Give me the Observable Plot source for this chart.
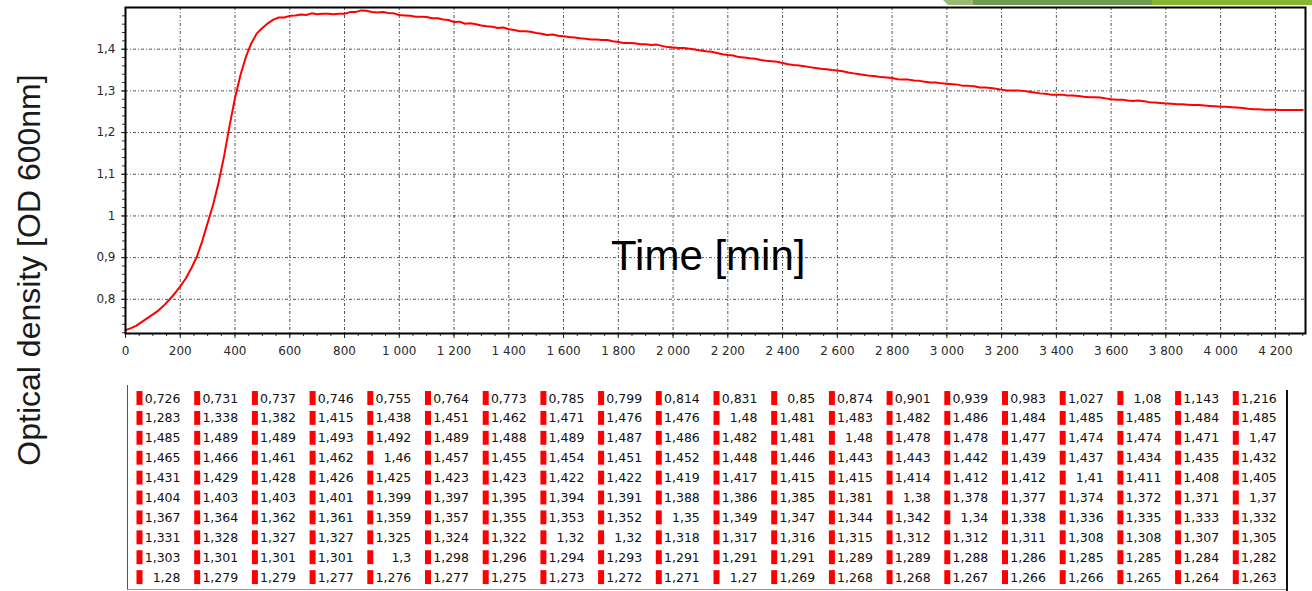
<!DOCTYPE html>
<html>
<head>
<meta charset="utf-8">
<script src="https://cdn.jsdelivr.net/npm/d3@7"></script>
<script src="https://cdn.jsdelivr.net/npm/@observablehq/plot@0.6"></script>
<style>
  html, body { margin: 0; padding: 0; background: #fff; }
  body { width: 1312px; height: 591px; position: relative; overflow: hidden; font-family: "Liberation Sans", Arial, sans-serif; }
  #chart { position: absolute; left: 0; top: 0; }
  #table { position: absolute; left: 0; top: 380px; }
  #tableBox { position: absolute; left: 127px; top: 385px; width: 1160px; height: 204px;
              border-left: 1px solid #555; border-bottom: 1px solid #999; }
  #tableRight { position: absolute; left: 1286px; top: 390px; width: 2px; height: 201px; background: #111; }
  #timeLabel { position: absolute; left: 611px; top: 235px; font-size: 42px; line-height: 42px; color: #000; white-space: nowrap; }
  #ylab { position: absolute; left: 0; top: 0; }
  .deco { position: absolute; top: 0; height: 5px; }
</style>
</head>
<body>
<div class="deco" style="left:936px;width:40px;background:#9cb873;clip-path:polygon(7px 0,100% 0,100% 100%,12px 100%);"></div>
<div class="deco" style="left:973px;width:180px;background:#6f9b4f;"></div>
<div class="deco" style="left:1152px;width:160px;background:#8ab52f;"></div>
<div id="chart"></div>
<div id="tableBox"></div>
<div id="tableRight"></div>
<div id="table"></div>
<div id="timeLabel">Time [min]</div>
<svg id="ylab" width="60" height="591">
  <text transform="translate(40,270) rotate(-90)" text-anchor="middle" font-family="Liberation Sans, Arial, sans-serif" font-size="32" fill="#1a1a1a">Optical density [OD 600nm]</text>
</svg>
<script>
// ---- data ----
const interval = 20; // minutes between readings
const od = [
  0.726, 0.731, 0.737, 0.746, 0.755, 0.764, 0.773, 0.785, 0.799, 0.814, 0.831, 0.85, 0.874, 0.901, 0.939, 0.983, 1.027, 1.08, 1.143, 1.216,
  1.283, 1.338, 1.382, 1.415, 1.438, 1.451, 1.462, 1.471, 1.476, 1.476, 1.48, 1.481, 1.483, 1.482, 1.486, 1.484, 1.485, 1.485, 1.484, 1.485,
  1.485, 1.489, 1.489, 1.493, 1.492, 1.489, 1.488, 1.489, 1.487, 1.486, 1.482, 1.481, 1.48, 1.478, 1.478, 1.477, 1.474, 1.474, 1.471, 1.47,
  1.465, 1.466, 1.461, 1.462, 1.46, 1.457, 1.455, 1.454, 1.451, 1.452, 1.448, 1.446, 1.443, 1.443, 1.442, 1.439, 1.437, 1.434, 1.435, 1.432,
  1.431, 1.429, 1.428, 1.426, 1.425, 1.423, 1.423, 1.422, 1.422, 1.419, 1.417, 1.415, 1.415, 1.414, 1.412, 1.412, 1.41, 1.411, 1.408, 1.405,
  1.404, 1.403, 1.403, 1.401, 1.399, 1.397, 1.395, 1.394, 1.391, 1.388, 1.386, 1.385, 1.381, 1.38, 1.378, 1.377, 1.374, 1.372, 1.371, 1.37,
  1.367, 1.364, 1.362, 1.361, 1.359, 1.357, 1.355, 1.353, 1.352, 1.35, 1.349, 1.347, 1.344, 1.342, 1.34, 1.338, 1.336, 1.335, 1.333, 1.332,
  1.331, 1.328, 1.327, 1.327, 1.325, 1.324, 1.322, 1.32, 1.32, 1.318, 1.317, 1.316, 1.315, 1.312, 1.312, 1.311, 1.308, 1.308, 1.307, 1.305,
  1.303, 1.301, 1.301, 1.301, 1.3, 1.298, 1.296, 1.294, 1.293, 1.291, 1.291, 1.291, 1.289, 1.289, 1.288, 1.286, 1.285, 1.285, 1.284, 1.282,
  1.28, 1.279, 1.279, 1.277, 1.276, 1.277, 1.275, 1.273, 1.272, 1.271, 1.27, 1.269, 1.268, 1.268, 1.267, 1.266, 1.266, 1.265, 1.264, 1.263
];
// readings after the table (4000..4300 min)
const odTail = [1.262, 1.262, 1.261, 1.26, 1.259, 1.257, 1.256, 1.256, 1.255, 1.255, 1.255, 1.254, 1.254, 1.254, 1.254, 1.254];
const xTicks = [0, 200, 400, 600, 800, 1000, 1200, 1400, 1600, 1800, 2000, 2200, 2400, 2600, 2800, 3000, 3200, 3400, 3600, 3800, 4000, 4200];
const yTicks = [0.8, 0.9, 1, 1.1, 1.2, 1.3, 1.4];
const xMinorStep = 50;
const yMinorStep = 0.02;
const tableColumns = 20;

// ---- derived ----
const series = od.concat(odTail).map((v, i) => ({t: i * interval, od: v}));
const xMinor = d3.range(0, 4310, xMinorStep);
const yMinor = d3.range(0.72, 1.5, yMinorStep);
const fmtX = d => d3.format(",")(d).replace(/,/g, " ");
const fmtNum = d => String(d).replace(".", ",");
const gridStyle = {stroke: "#555", strokeOpacity: 1, strokeWidth: 1, strokeDasharray: "3,2,1,2"};

const chart = Plot.plot({
  width: 1312,
  height: 370,
  marginLeft: 125,
  marginRight: 7,
  marginTop: 7,
  marginBottom: 37,
  style: {fontFamily: "DejaVu Sans, sans-serif", fontSize: "12px", color: "#2a2a2a", background: "transparent"},
  x: {domain: [0, 4310]},
  y: {domain: [0.718, 1.5]},
  marks: [
    Plot.gridX(xTicks.slice(1), gridStyle),
    Plot.gridY(yTicks, gridStyle),
    Plot.axisX(xMinor, {tickSize: 3, tickFormat: () => "", label: null, stroke: "#333"}),
    Plot.axisY(yMinor, {tickSize: 3, tickFormat: () => "", label: null, stroke: "#333"}),
    Plot.axisX(xTicks, {tickSize: 5, tickPadding: 8, tickFormat: fmtX, label: null, stroke: "#222"}),
    Plot.axisY(yTicks, {tickSize: 4, tickPadding: 6, tickFormat: fmtNum, label: null, stroke: "#222"}),
    Plot.line(series, {x: "t", y: "od", stroke: "#ff0000", strokeWidth: 2}),
    Plot.frame({stroke: "#000", strokeWidth: 2})
  ]
});
document.getElementById("chart").append(chart);

const cells = od.map((v, i) => ({row: Math.floor(i / tableColumns), col: i % tableColumns, v}));
const table = Plot.plot({
  width: 1312,
  height: 211,
  margin: 0,
  style: {fontFamily: "DejaVu Sans, sans-serif", fontSize: "12.5px", color: "#111", background: "transparent"},
  x: {domain: [0, 20], range: [136, 1290], axis: null},
  y: {domain: [0, 10], range: [18, 217], axis: null},
  marks: [
    Plot.ruleX(cells, {x: "col", y1: d => d.row - 0.35, y2: d => d.row + 0.35, stroke: "#ff0000", strokeWidth: 6, dx: 3}),
    Plot.text(cells, {x: "col", y: "row", text: d => fmtNum(d.v), textAnchor: "end", dx: 44, fill: "#111"})
  ]
});
document.getElementById("table").append(table);
</script>
</body>
</html>
